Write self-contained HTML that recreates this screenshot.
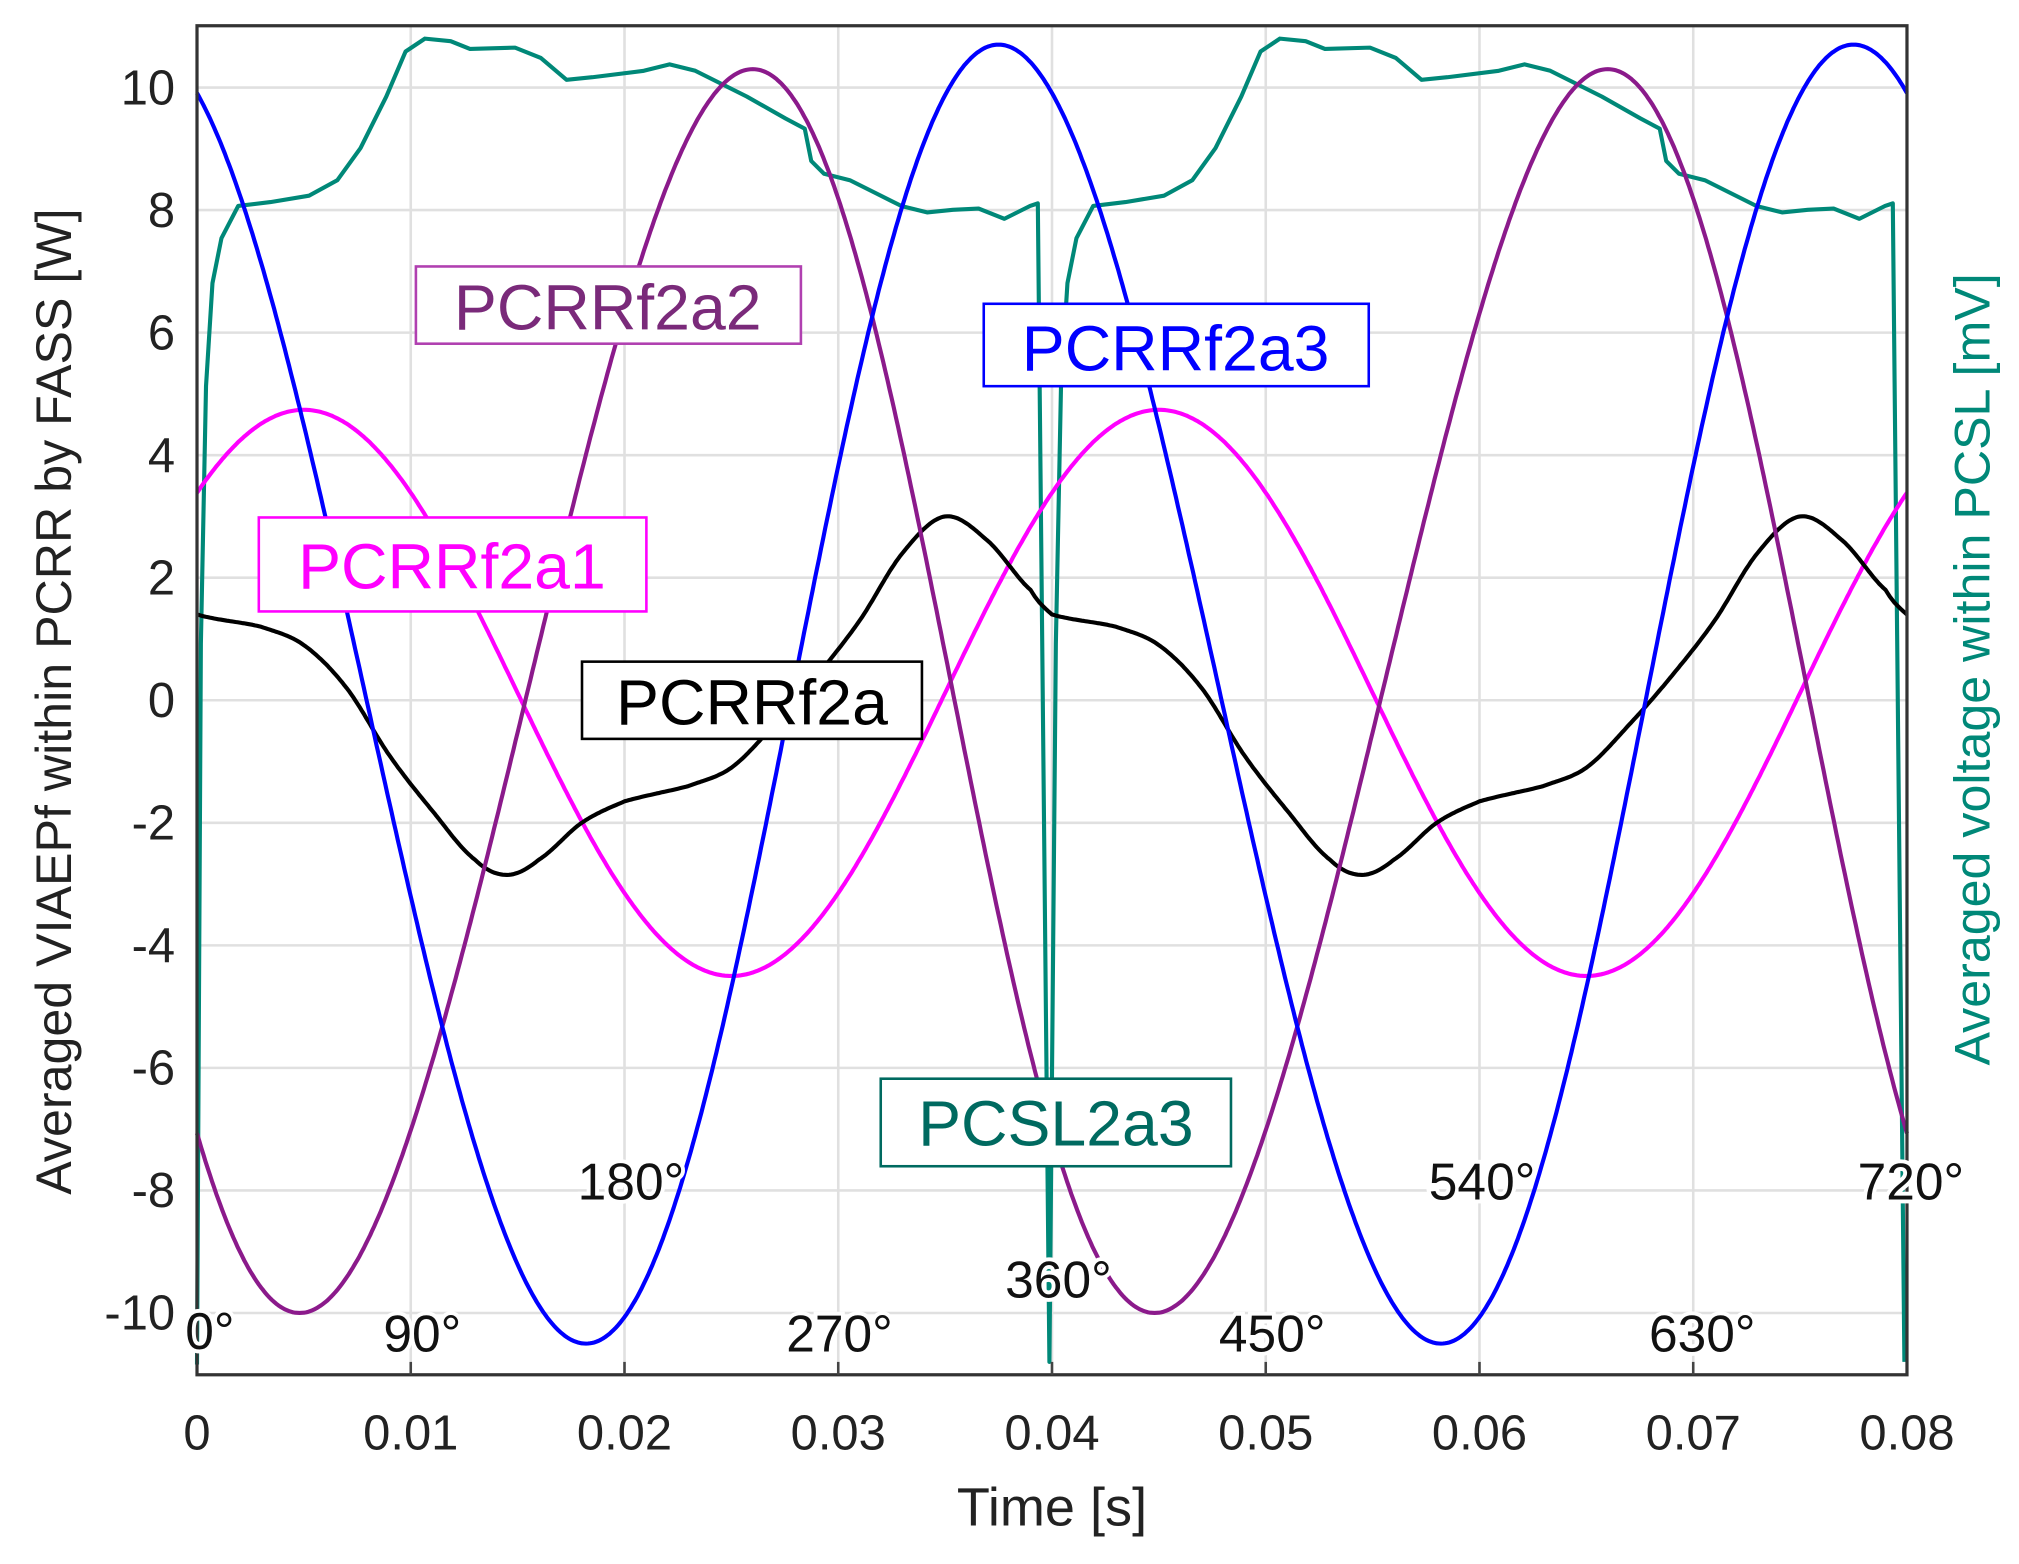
<!DOCTYPE html>
<html><head><meta charset="utf-8"><style>
html,body{margin:0;padding:0;background:#fff;}
svg{display:block;}
text{font-family:"Liberation Sans",Arial,sans-serif;}
</style></head><body>
<svg id="s" width="2019" height="1564" viewBox="0 0 1568 1215" preserveAspectRatio="none" xmlns="http://www.w3.org/2000/svg">
<rect width="1568" height="1215" fill="#fff"/>
<g id="grid" stroke="#e0e0e0" stroke-width="2"></g>
<g id="curves" fill="none" stroke-width="3.2" stroke-linejoin="round"></g>
<rect x="153" y="20" width="1328" height="1048" fill="none" stroke="#333" stroke-width="2.5"/>
<g id="ticks" stroke="#444" stroke-width="2"></g>
<g font-size="38" fill="#222" text-anchor="end" id="ylab"></g>
<g font-size="38" fill="#222" text-anchor="middle" id="xlab"></g>
<text x="817" y="1185" font-size="42" text-anchor="middle" fill="#222">Time [s]</text>
<text transform="translate(55,545) rotate(-90)" font-size="39" text-anchor="middle" fill="#222">Averaged VIAEPf within PCRR by FASS [W]</text>
<text transform="translate(1545,520) rotate(-90)" font-size="39" text-anchor="middle" fill="#008878">Averaged voltage within PCSL [mV]</text>
<g font-size="50">
<rect x="323" y="207" width="299" height="60" fill="#fff" stroke="#b040b0" stroke-width="2"/>
<text x="472" y="256" text-anchor="middle" fill="#7a2a7a">PCRRf2a2</text>
<rect x="764" y="236" width="299" height="64" fill="#fff" stroke="#0000ff" stroke-width="2"/>
<text x="913" y="288" text-anchor="middle" fill="#0000ff">PCRRf2a3</text>
<rect x="201" y="402" width="301" height="73" fill="#fff" stroke="#ff00ff" stroke-width="2"/>
<text x="351" y="457" text-anchor="middle" fill="#ff00ff">PCRRf2a1</text>
<rect x="452" y="514" width="264" height="60" fill="#fff" stroke="#000" stroke-width="2"/>
<text x="584" y="563" text-anchor="middle" fill="#000">PCRRf2a</text>
<rect x="684" y="838" width="272" height="68" fill="#fff" stroke="#006a60" stroke-width="2"/>
<text x="820" y="890" text-anchor="middle" fill="#006a60">PCSL2a3</text>
</g>
<g font-size="40" fill="#111" text-anchor="middle" stroke="#fff" stroke-width="6" paint-order="stroke">
<text x="163" y="1048">0°</text>
<text x="328" y="1050">90°</text>
<text x="490" y="932">180°</text>
<text x="652" y="1050">270°</text>
<text x="822" y="1008">360°</text>
<text x="988" y="1050">450°</text>
<text x="1151" y="932">540°</text>
<text x="1322" y="1050">630°</text>
<text x="1484" y="932">720°</text>
</g>
</svg>
<script>
const NS="http://www.w3.org/2000/svg";
function X(t){return 153+t/0.08*1328;}
function Y(v){return 544-v*47.6;}
function el(p,tag,a){const e=document.createElementNS(NS,tag);for(const k in a)e.setAttribute(k,a[k]);p.appendChild(e);return e;}
const g=document.getElementById('grid'),tk=document.getElementById('ticks');
for(let i=1;i<8;i++){const x=X(i*0.01);el(g,'line',{x1:x,x2:x,y1:20,y2:1068});el(tk,'line',{x1:x,x2:x,y1:1068,y2:1058});}
for(let v=-10;v<=10;v+=2){const y=Y(v);el(g,'line',{x1:153,x2:1481,y1:y,y2:y});
 el(document.getElementById('ylab'),'text',{x:136,y:y+13}).textContent=v;}
for(let i=0;i<=8;i++){el(document.getElementById('xlab'),'text',{x:X(i*0.01),y:1126}).textContent=(i==0?'0':(i/100).toString());}
const c=document.getElementById('curves');
function curve(f,col){let d='';for(let i=0;i<=800;i++){const t=i/800*0.08;d+=(i?'L':'M')+X(t).toFixed(1)+' '+Y(f(t)).toFixed(1);}el(c,'path',{d:d,stroke:col});}
const w=2*Math.PI/0.04;
const tp=[[153,1060],[156,500],[160,300],[165,220],[172,185],[185,160],[210,157],[240,152],[262,140],[280,115],[300,75],[315,40],[330,30],[350,32],[365,38],[400,37],[420,45],[440,62],[460,60],[500,55],[520,50],[540,55],[580,75],[610,92],[625,100],[630,125],[640,135],[660,140],[680,150],[700,160],[720,165],[740,163],[760,162],[780,170],[800,160],[806,158],[815,1058]];
let d='';
for(let k=0;k<2;k++){tp.forEach((p,i)=>{if(k==1&&i==0)return;d+=(d?'L':'M')+(p[0]+664*k)+' '+p[1];});}
el(c,'path',{d:d,stroke:'#008878'});
curve(t=>0.12+4.62*Math.cos(w*(t-0.005)),'#ff00ff');
const bp=[[0,1.4],[0.003,1.2],[0.005,0.9],[0.007,0.2],[0.009,-0.9],[0.011,-1.8],[0.013,-2.6],[0.0145,-2.85],[0.016,-2.6],[0.018,-2.0],[0.020,-1.65],[0.023,-1.4],[0.025,-1.1],[0.027,-0.4],[0.029,0.4],[0.031,1.3],[0.033,2.4],[0.035,3.0],[0.037,2.6],[0.039,1.8],[0.04,1.4]];
const N=bp.length-1;
function pv(i){i=((i%N)+N)%N;return bp[i];}
function bl(t){t=t%0.04;for(let i=1;i<=N;i++){if(t<=bp[i][0]){const a=bp[i-1],b=bp[i];const u=(t-a[0])/(b[0]-a[0]);
 const p0=pv(i-2)[1],p1=a[1],p2=b[1],p3=pv(i+1)[1];
 return 0.5*((2*p1)+(-p0+p2)*u+(2*p0-5*p1+4*p2-p3)*u*u+(-p0+3*p1-3*p2+p3)*u*u*u);}}return 1.4;}
curve(bl,'#000');
function sk(t,t0,a){let f=w*(t-t0);f=((f%(2*Math.PI))+3*Math.PI)%(2*Math.PI)-Math.PI;return f+a*(1-Math.cos(f))/2;}
curve(t=>0.15-10.15*Math.cos(sk(t,0.0048,-0.19)),'#8b1a8b');
curve(t=>0.1+10.6*Math.cos(sk(t,0.0375,-0.11)),'#0000ff');
</script>
</body></html>
